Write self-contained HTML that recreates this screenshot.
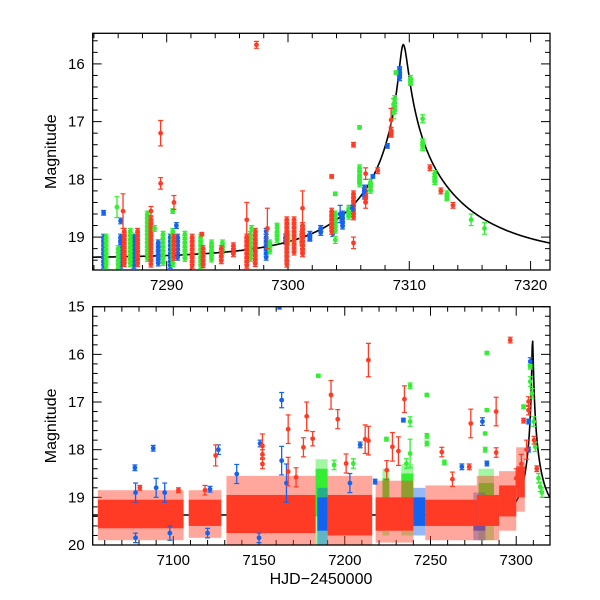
<!DOCTYPE html>
<html><head><meta charset="utf-8">
<style>
html,body{margin:0;padding:0;background:#fff;}
svg{display:block;font-family:"Liberation Sans",sans-serif;}
</style></head>
<body>
<svg id="chart" width="600" height="600" viewBox="0 0 600 600"></svg>
<script>
// ---------- DATA ----------
const topRed = [[7297.4,15.67,0.06],[7289.5,17.2,0.22],[7289.5,18.07,0.1],[7290.6,18.4,0.12],[7286.4,18.55,0.3],[7288.7,18.55,0.08],[7292.9,18.95,0.03],[7298.3,18.85,0.35],[7303.6,17.95,0.03],[7305.4,17.4,0.04],[7305.4,19.1,0.1],[7306.4,17.9,0.1],[7307.4,17.85,0.05],[7308.5,16.97,0.2],[7308.5,17.2,0.05],[7311.7,17.8,0.05],[7312.6,18.2,0.05],[7313.6,18.45,0.05],[7301.2,18.5,0.3],[7296.6,18.7,0.3],[7305.4,18.65,0.05],[7306.4,18.4,0.1]];
const topBlue = [[7284.8,18.58,0.04],[7286.2,18.72,0.05],[7290.8,18.8,0.05],[7298.2,18.9,0.05],[7304.3,18.6,0.15],[7305.3,18.5,0.05],[7306.3,18.2,0.1],[7307.0,17.95,0.03],[7308.2,17.42,0.04],[7309.2,16.12,0.05],[7309.2,16.2,0.05],[7302.7,18.85,0.05],[7301.8,19.0,0.05]];
const topGreen = [[7285.9,18.48,0.18],[7289.0,18.85,0.05],[7290.5,18.55,0.04],[7299.1,18.8,0.04],[7303.9,18.25,0.03],[7303.9,19.05,0.06],[7305.0,18.6,0.05],[7305.9,17.1,0.03],[7305.9,17.95,0.1],[7306.8,18.1,0.1],[7308.7,16.7,0.1],[7308.7,16.85,0.1],[7308.9,16.15,0.03],[7310.1,16.3,0.05],[7311.1,16.95,0.07],[7311.1,17.4,0.1],[7312.1,18.0,0.05],[7313.1,18.3,0.05],[7315.1,18.7,0.1],[7316.2,18.85,0.1],[7297.0,18.85,0.05]];
const topRedClusters = [[7286.5,18.9,19.5],[7287.6,18.9,19.5],[7288.7,18.7,19.5],[7290.6,19.0,19.35],[7292.1,19.0,19.5],[7293.0,19.2,19.5],[7294.5,19.2,19.45],[7295.5,19.15,19.3],[7296.6,19.0,19.5],[7297.3,18.9,19.5],[7299.9,18.7,19.5],[7300.5,18.7,19.3],[7301.2,18.8,19.3],[7303.6,18.55,18.95],[7305.4,18.25,18.6],[7306.4,18.2,18.4],[7308.5,17.15,17.25]];
const topBlueClusters = [[7284.8,19.0,19.55],[7286.2,19.0,19.55],[7287.3,19.0,19.5],[7289.3,19.1,19.5],[7290.3,19.0,19.5],[7290.9,19.0,19.4],[7298.2,19.0,19.4],[7299.8,19.0,19.1],[7301.8,18.95,19.05],[7302.7,18.85,18.95],[7303.7,18.8,18.95],[7304.5,18.6,18.85],[7306.3,18.15,18.3],[7309.2,16.1,16.25]];
const topGreenClusters = [[7285.0,19.0,19.55],[7286.0,19.2,19.55],[7287.0,18.9,19.5],[7288.4,18.6,19.4],[7289.7,18.95,19.5],[7290.5,18.9,19.5],[7291.5,18.95,19.4],[7292.8,19.0,19.5],[7293.7,19.1,19.4],[7294.6,19.1,19.3],[7296.9,18.95,19.4],[7298.5,19.1,19.3],[7299.1,18.9,19.1],[7300.0,18.95,19.15],[7301.1,18.95,19.1],[7303.9,18.6,18.9],[7305.0,18.5,18.65],[7305.9,17.8,18.1],[7306.8,18.05,18.2],[7308.8,16.6,16.85],[7310.1,16.25,16.35],[7311.1,17.35,17.45],[7312.1,17.9,18.05],[7313.1,18.25,18.35]];
const botBlue = [[7077.6,18.38,0.06],[7088.3,17.97,0.06],[7126.3,18.0,0.1],[7121.4,18.83,0.06],[7137,18.51,0.2],[7150.6,17.87,0.07],[7163.2,16.96,0.16],[7163.2,18.23,0.3],[7234.2,17.38,0.04],[7280.3,17.41,0.08],[7282.9,18.29,0.05],[7268.3,18.36,0.06],[7209,17.9,0.06],[7217.7,18.67,0.05],[7308.2,16.15,0.08],[7307.2,17.41,0.05],[7307.2,18.0,0.05],[7161.9,15.0,0.05],[7078,18.9,0.2],[7090,18.8,0.2],[7095,18.9,0.2],[7166,18.7,0.4],[7203,18.7,0.2],[7078,19.85,0.1],[7098,19.75,0.15],[7120,19.75,0.1],[7150,19.85,0.1]];
const botRed = [[7124.7,18.12,0.22],[7152,17.92,0.25],[7152,18.1,0.1],[7152,18.3,0.1],[7167,17.57,0.3],[7167,18.46,0.3],[7177.8,17.3,0.3],[7181.3,17.77,0.15],[7192,16.85,0.3],[7195.9,17.36,0.2],[7200.8,18.29,0.2],[7211.9,17.78,0.3],[7213.8,16.12,0.35],[7213.8,17.81,0.3],[7227.8,17.94,0.3],[7231.3,18.03,0.3],[7234.8,16.94,0.28],[7256.6,18.05,0.1],[7273.5,17.45,0.3],[7272.6,18.36,0.06],[7288.3,17.2,0.3],[7288.3,18.06,0.1],[7296.5,15.7,0.06],[7304.3,17.39,0.05],[7307.2,16.99,0.1],[7307.2,17.17,0.1],[7310.4,17.8,0.08],[7312,18.4,0.06],[7080.5,18.8,0.05],[7103,18.85,0.05],[7118.5,18.85,0.1],[7262.8,18.62,0.15],[7224.5,18.43,0.2],[7171.6,18.58,0.2],[7175.9,17.95,0.2],[7300,18.6,0.2],[7303,18.3,0.2],[7306,18.0,0.2]];
const botGreen = [[7184.6,16.45,0.03],[7238.1,16.66,0.06],[7238.1,17.41,0.1],[7238.1,18.08,0.3],[7247.9,16.85,0.03],[7247.9,17.71,0.05],[7247.9,17.87,0.05],[7282.9,15.97,0.03],[7282.9,17.17,0.03],[7281.9,17.66,0.03],[7281.9,18.0,0.05],[7224.3,17.78,0.04],[7258.1,18.27,0.05],[7304.3,17.1,0.04],[7308.2,16.26,0.05],[7309.2,16.82,0.1],[7308.2,16.57,0.1],[7310.2,17.41,0.1],[7311.1,17.94,0.1],[7314.0,18.78,0.1],[7193.8,18.32,0.1],[7205,18.29,0.1],[7236,18.29,0.1],[7313,18.6,0.1],[7315,18.9,0.1]];
// dense observing seasons [tStart, tEnd, coreTop, coreBottom, spreadTop, spreadBottom]
const botGreenSeasons = [[7183,7190,18.4,19.4,18.2,20],[7222,7226,18.6,19.2,18.4,19.8],[7233,7240,18.5,19.4,18.3,19.8],[7278,7287,18.7,19.5,18.4,19.9]];
const botBlueSeasons = [[7184,7190,19.0,19.7,18.8,20],[7240,7247,19.0,19.6,18.8,19.8],[7275,7282,19.1,19.7,18.9,19.9]];
const botRedSeasons = [[7056,7106,19.05,19.65,18.85,19.9],[7109,7128,19.05,19.6,18.85,19.85],[7131,7183,18.95,19.75,18.55,20],[7190,7216,18.95,19.8,18.55,20],[7218,7240,19.0,19.7,18.65,19.95],[7247,7277,19.05,19.6,18.75,19.9],[7277,7290,18.95,19.6,18.55,19.9],[7290,7300,18.75,19.4,18.45,19.7],[7300,7305,18.35,19.0,17.95,19.3]];
// model parameters
const modelT0 = [7309.5], modelU0 = [0.033], modelTEleft = [9], modelTEright = [11], modelBase = [19.37];
const topXTicks = [7290,7300,7310,7320], topYTicks = [16,17,18,19];
const botXTicks = [7100,7150,7200,7250,7300], botYTicks = [15,16,17,18,19,20];

// ---------- RENDER ----------
const NS="http://www.w3.org/2000/svg", svg=document.getElementById('chart');
const RED="#ff3b26", GREEN="#33ee33", BLUE="#1463ee";
function el(tag,attrs,parent){const e=document.createElementNS(NS,tag);for(const k in attrs)e.setAttribute(k,attrs[k]);(parent||svg).appendChild(e);return e;}
function makePanel(px0,px1,py0,py1,t0,t1,m0,m1){
  return {x:t=>px0+(t-t0)/(t1-t0)*(px1-px0), y:m=>py0+(m-m0)/(m1-m0)*(py1-py0), px0,px1,py0,py1,t0,t1,m0,m1};
}
const P1=makePanel(92.7,550,33.3,270,7283.9,7321.6,15.47,19.57);
const P2=makePanel(92.7,550,306.7,545,7053,7319.7,15,20);

function drawPanel(P,name,xt,xMinor,yt,yMinor,clip){
  const g=el('g',{});
  
  
  for(let t=Math.ceil(P.t0/xMinor)*xMinor;t<=P.t1;t+=xMinor){
    const major=xt.includes(t), L=major?9:5, x=P.x(t);
    el('line',{x1:x,y1:P.py1,x2:x,y2:P.py1-L,stroke:'#000','stroke-width':1},g);
    el('line',{x1:x,y1:P.py0,x2:x,y2:P.py0+L,stroke:'#000','stroke-width':1},g);
  }
  for(let i=Math.ceil(P.m0/yMinor-1e-6);i*yMinor<=P.m1+1e-6;i++){
    const m=i*yMinor, major=Math.abs(m-Math.round(m))<1e-6, L=major?9:5, y=P.y(m);
    el('line',{x1:P.px0,y1:y,x2:P.px0+L,y2:y,stroke:'#000','stroke-width':1},g);
    el('line',{x1:P.px1,y1:y,x2:P.px1-L,y2:y,stroke:'#000','stroke-width':1},g);
  }
  xt.forEach(t=>{const tx=el('text',{x:P.x(t),y:P.py1+20,'text-anchor':'middle','font-size':15},g);tx.textContent=t;
    
    });
  yt.forEach(m=>{const tx=el('text',{x:P.px0-8,y:P.y(m)+5,'text-anchor':'end','font-size':15},g);tx.textContent=m;
    
    });
  const yl=el('text',{x:0,y:0,'text-anchor':'middle','font-size':16,transform:`translate(56,${(P.py0+P.py1)/2}) rotate(-90)`},g);
  yl.textContent='Magnitude';
  
  
  const cpath=el('clipPath',{id:clip},svg);
  el('rect',{x:P.px0,y:P.py0,width:P.px1-P.px0,height:P.py1-P.py0},cpath);
  return g;
}
function point(g,P,t,m,e,c){
  const x=P.x(t),y=P.y(m),y1=P.y(m-e),y2=P.y(m+e);
  el('line',{x1:x,y1:y1,x2:x,y2:y2,stroke:c,'stroke-width':1.3},g);
  el('line',{x1:x-2.5,y1:y1,x2:x+2.5,y2:y1,stroke:c,'stroke-width':1.2},g);
  el('line',{x1:x-2.5,y1:y2,x2:x+2.5,y2:y2,stroke:c,'stroke-width':1.2},g);
  const d=el('circle',{cx:x,cy:y,r:2.4,fill:c},g);
  
  
}
function cluster(g,P,t,mA,mB,c){
  for(let m=mA;m<=mB+1e-6;m+=0.07) point(g,P,t,m,0.05,c);
}
function season(g,P,s,c){
  const sp=el('rect',{x:P.x(s[0]),y:P.y(s[4]),width:P.x(s[1])-P.x(s[0]),height:P.y(s[5])-P.y(s[4]),fill:c,opacity:0.45},g);
  
  
  const r=el('rect',{x:P.x(s[0]),y:P.y(s[2]),width:P.x(s[1])-P.x(s[0]),height:P.y(s[3])-P.y(s[2]),fill:c},g);
  
  
}
function model(P,g){
  let d='';
  for(let px=P.px0;px<=P.px1;px+=0.5){
    const t=P.t0+(px-P.px0)/(P.px1-P.px0)*(P.t1-P.t0);
    const tE=t<modelT0[0]?modelTEleft[0]:modelTEright[0];
    const u=Math.sqrt(modelU0[0]**2+((t-modelT0[0])/tE)**2);
    const A=(u*u+2)/(u*Math.sqrt(u*u+4));
    const m=modelBase[0]-2.5*Math.log10(A);
    d+=(d?'L':'M')+px.toFixed(1)+','+P.y(m).toFixed(1);
  }
  const p=el('path',{d:d,fill:'none',stroke:'#000','stroke-width':1.6},g);
  
  
}

// Top panel
drawPanel(P1,'top-panel',topXTicks,2,topYTicks,0.2,'c1');
const g1=el('g',{'clip-path':'url(#c1)'});


model(P1,g1);
topBlueClusters.forEach(c=>cluster(g1,P1,c[0],c[1],c[2],BLUE));
topGreenClusters.forEach(c=>cluster(g1,P1,c[0],c[1],c[2],GREEN));
topRedClusters.forEach(c=>cluster(g1,P1,c[0],c[1],c[2],RED));
topBlue.forEach(p=>point(g1,P1,p[0],p[1],p[2],BLUE));
topGreen.forEach(p=>point(g1,P1,p[0],p[1],p[2],GREEN));
topRed.forEach(p=>point(g1,P1,p[0],p[1],p[2],RED));
const f1=el('rect',{x:P1.px0,y:P1.py0,width:P1.px1-P1.px0,height:P1.py1-P1.py0,fill:'none',stroke:'#000','stroke-width':1.3});



// Bottom panel
drawPanel(P2,'bottom-panel',botXTicks,10,botYTicks,0.2,'c2');
const g2=el('g',{'clip-path':'url(#c2)'});


model(P2,g2);
botGreenSeasons.forEach(s=>season(g2,P2,s,GREEN));
botBlueSeasons.forEach(s=>season(g2,P2,s,BLUE));
botRedSeasons.forEach(s=>season(g2,P2,s,RED));
botBlue.forEach(p=>point(g2,P2,p[0],p[1],p[2],BLUE));
botGreen.forEach(p=>point(g2,P2,p[0],p[1],p[2],GREEN));
botRed.forEach(p=>point(g2,P2,p[0],p[1],p[2],RED));
const f2=el('rect',{x:P2.px0,y:P2.py0,width:P2.px1-P2.px0,height:P2.py1-P2.py0,fill:'none',stroke:'#000','stroke-width':1.3});


const xl=el('text',{x:321,y:584,'text-anchor':'middle','font-size':16});
xl.textContent='HJD\u22122450000';


</script>
</body></html>
